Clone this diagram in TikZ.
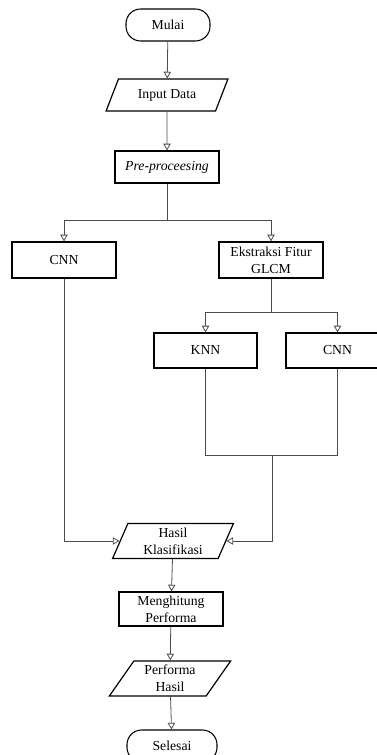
\documentclass[tikz,border=0pt]{standalone}
\usepackage{fontspec}
\setmainfont{Liberation Serif}
\usetikzlibrary{shapes.geometric,arrows.meta}
\begin{document}
\begin{tikzpicture}[x=0.75pt,y=-0.75pt,
  font=\fontsize{10.3}{12.5}\selectfont,
  box/.style={draw=black,line width=0.9pt,rectangle,align=center,inner sep=1pt,minimum width=78pt,minimum height=27pt},
  term/.style={draw=black,line width=0.8pt,rectangle,rounded corners=11pt,align=center,inner sep=1pt,minimum height=24pt},
  io/.style={draw=black,line width=0.9pt,trapezium,trapezium stretches=true,align=center,inner sep=1pt,minimum height=26.25pt,minimum width=91.5pt},
  con/.style={draw=black!70,line width=0.6pt},
  arr/.style={con,-{Triangle[open,length=5pt,width=5.5pt,fill=white]}}]
\useasboundingbox (0,0) rectangle (377,755);
\node[term,minimum width=63pt] (mulai) at (168,25) {Mulai};
\node[io,minimum height=24pt,trapezium left angle=62,trapezium right angle=118] (input) at (167,95) {Input Data};
\node[box,minimum height=24pt] (pre) at (167,167) {\itshape Pre-proceesing};
\node[box] (cnn1) at (64,260) {CNN};
\node[box] (ekstr) at (271,260) {Ekstraksi Fitur\\GLCM};
\node[box,minimum width=77.25pt,minimum height=26.25pt] (knn) at (205.5,350.5) {KNN};
\node[box,minimum width=77.25pt,minimum height=26.25pt] (cnn2) at (337.5,350.5) {CNN};
\node[io,minimum width=90.75pt,trapezium left angle=70,trapezium right angle=110] (hasil) at (173,541) {Hasil\\Klasifikasi};
\node[box,minimum height=25.5pt] (meng) at (171,609) {Menghitung\\Performa};
\node[io,trapezium left angle=58,trapezium right angle=122] (perf) at (170,678.5) {Performa\\Hasil};
\node[term,minimum width=67.5pt] (selesai) at (172,746) {Selesai};
\coordinate (b1) at (167,220);
\coordinate (b2) at (271,312);
\coordinate (j) at (272,455);
\draw[arr] (mulai) -- (input);
\draw[arr] (input) -- (pre);
\draw[con] (pre) -- (b1);
\draw[arr] (b1) -| (cnn1.north);
\draw[arr] (b1) -| (ekstr.north);
\draw[con] (ekstr) -- (b2);
\draw[arr] (b2) -| (knn.north);
\draw[arr] (b2) -| (cnn2.north);
\draw[con] (knn.south) |- (j);
\draw[con] (cnn2.south) |- (j);
\draw[arr] (j) |- (hasil.east);
\draw[arr] (cnn1.south) |- (hasil.west);
\draw[arr] (hasil) -- (meng);
\draw[arr] (meng) -- (perf);
\draw[arr] (perf) -- (selesai);
\end{tikzpicture}
\end{document}
